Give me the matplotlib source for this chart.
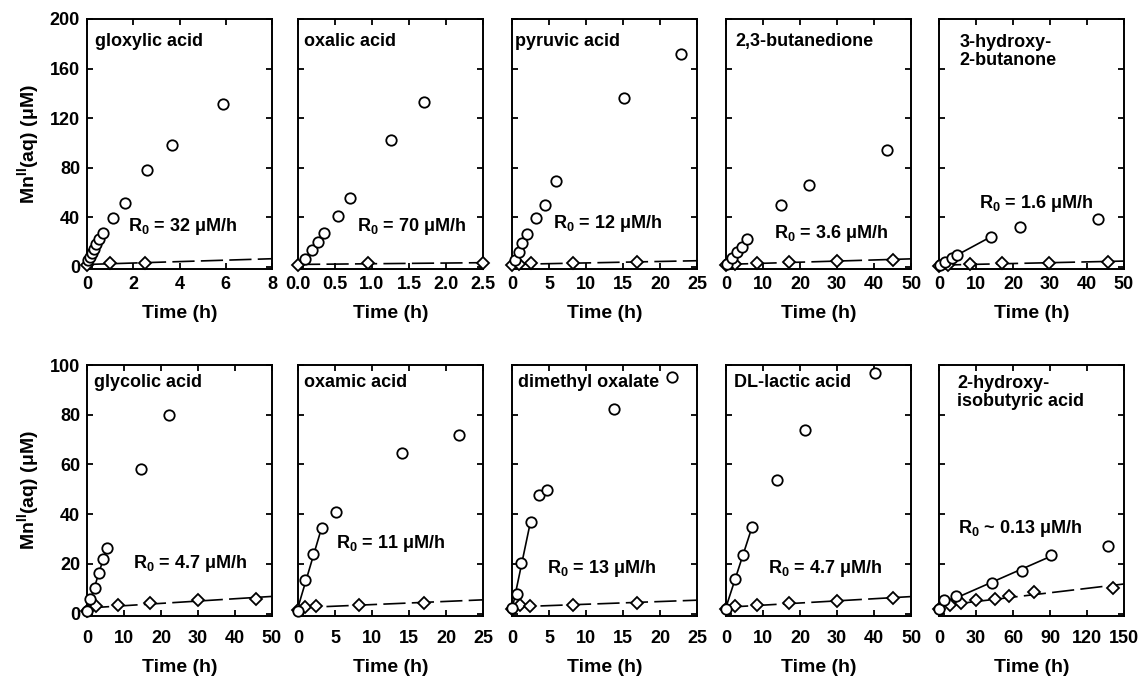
import numpy as np
import matplotlib
matplotlib.use('Agg')
import matplotlib.pyplot as plt

plt.rcParams['font.family'] = ['Liberation Sans', 'DejaVu Sans']
plt.rcParams['font.weight'] = 'bold'
plt.rcParams['axes.labelweight'] = 'bold'
plt.rcParams['mathtext.fontset'] = 'custom'
plt.rcParams['mathtext.rm'] = 'Liberation Sans:bold'
plt.rcParams['mathtext.it'] = 'Liberation Sans:bold'
plt.rcParams['mathtext.bf'] = 'Liberation Sans:bold'
plt.rcParams['mathtext.default'] = 'rm'
plt.rcParams['lines.scale_dashes'] = False

# ------------------------------------------------------------------ #
# Data
# ------------------------------------------------------------------ #
names = ['gloxylic acid', 'oxalic acid', 'pyruvic acid', '2,3-butanedione',
         '3-hydroxy-\n2-butanone',
         'glycolic acid', 'oxamic acid', 'dimethyl oxalate', 'DL-lactic acid',
         '2-hydroxy-\nisobutyric acid']
rates = ['R$_0$ = 32 μM/h', 'R$_0$ = 70 μM/h', 'R$_0$ = 12 μM/h',
         'R$_0$ = 3.6 μM/h', 'R$_0$ = 1.6 μM/h',
         'R$_0$ = 4.7 μM/h', 'R$_0$ = 11 μM/h', 'R$_0$ = 13 μM/h',
         'R$_0$ = 4.7 μM/h', 'R$_0$ ~ 0.13 μM/h']

# circles: with substrate
circ_t = [
    [0.05, 0.12, 0.2, 0.3, 0.4, 0.52, 0.68, 1.12, 1.63, 2.59, 3.67, 5.87],
    [0.09, 0.19, 0.27, 0.35, 0.54, 0.70, 1.25, 1.70],
    [0.45, 0.9, 1.35, 2.0, 3.2, 4.5, 5.9, 15.2, 22.8],
    [0.4, 1.5, 2.9, 4.2, 5.6, 14.8, 22.5, 43.4],
    [0.3, 1.6, 3.4, 4.8, 14.1, 21.9, 42.9],
    [0, 0.9, 2.1, 3.2, 4.3, 5.4, 14.5, 22.2],
    [0, 0.95, 2.0, 3.3, 5.1, 14.1, 21.8],
    [0, 0.63, 1.2, 2.5, 3.6, 4.7, 13.8, 21.6],
    [0, 2.3, 4.7, 7.1, 13.7, 21.4, 40.3],
    [0, 4.3, 13.8, 42.7, 67, 90.5, 137],
]
circ_y = [
    [5, 8, 11, 14, 18, 22, 27, 39, 51, 78, 98, 131],
    [6, 13, 20, 27, 41, 55, 102, 133],
    [5, 12, 19, 26, 39, 50, 69, 136, 172],
    [2, 7, 12, 16, 22, 50, 66, 94],
    [1.5, 4, 7, 9.5, 24, 32, 38],
    [1, 5.7, 10.3, 16.3, 22, 26.4, 58.3, 79.7],
    [1, 13.3, 24, 34.3, 40.7, 64.7, 71.7],
    [2.3, 8, 20.3, 36.7, 47.7, 49.7, 82.3, 95.3],
    [2, 14, 23.7, 35, 53.7, 74, 96.7],
    [2, 5.3, 6.9, 12.3, 17, 23.6, 27.3],
]
# number of early points used for the initial-rate line
n_fit = [7, 4, 4, 5, 5, 6, 4, 4, 4, 6]

# diamonds: control
dia_t = [
    [0, 0.98, 2.49],
    [0, 0.95, 2.5],
    [0, 0.9, 2.5, 8.3, 16.9],
    [0, 2.3, 8.3, 17, 29.9, 45.2],
    [0, 2.5, 8.4, 17.1, 29.7, 45.6],
    [0, 2.5, 8.4, 17, 29.9, 45.6],
    [0, 0.95, 2.4, 8.3, 17.0],
    [0, 1.1, 2.4, 8.3, 16.9],
    [0, 2.4, 8.3, 17, 29.9, 45.2],
    [0, 8.9, 17.8, 29.7, 45.4, 56.8, 77.3, 140.8],
]
dia_y = [
    [1.5, 2.5, 3],
    [1.5, 2.5, 3],
    [1, 2, 2.5, 3, 3.5],
    [1, 2, 3, 3.5, 4.5, 5.5],
    [0.5, 1.5, 2, 2.5, 3, 4],
    [1, 3, 3.3, 4.3, 5.3, 6],
    [1.6, 2.7, 3, 3.6, 4.3],
    [2, 3.3, 3, 3.6, 4.4],
    [2, 3, 3.3, 4.3, 5, 6.3],
    [1.7, 3.3, 4.3, 5.3, 6, 7, 8.7, 10.3],
]

x_max = [8, 2.5, 25, 50, 50, 50, 25, 25, 50, 150]
x_ticks = [
    [0, 2, 4, 6, 8],
    [0, 0.5, 1.0, 1.5, 2.0, 2.5],
    [0, 5, 10, 15, 20, 25],
    [0, 10, 20, 30, 40, 50],
    [0, 10, 20, 30, 40, 50],
    [0, 10, 20, 30, 40, 50],
    [0, 5, 10, 15, 20, 25],
    [0, 5, 10, 15, 20, 25],
    [0, 10, 20, 30, 40, 50],
    [0, 30, 60, 90, 120, 150],
]

# ------------------------------------------------------------------ #
# Layout (pixel positions of the panels)
# ------------------------------------------------------------------ #
W, H = 1142, 680
lefts = [87, 298, 512, 726, 939]
pw = 185
rows = [(19, 269), (365, 616)]
xpad = [5, 10]     # tick label pad per row (pt)

name_pos = [(0.045, 0.91), (0.03, 0.91), (0.015, 0.91), (0.05, 0.91), (0.11, 0.87),
            (0.04, 0.93), (0.035, 0.93), (0.03, 0.93), (0.045, 0.93), (0.10, 0.89)]
rate_pos = [(0.22, 0.17), (0.32, 0.17), (0.22, 0.18), (0.26, 0.14), (0.215, 0.26),
            (0.25, 0.21), (0.205, 0.29), (0.19, 0.19), (0.225, 0.19), (0.105, 0.35)]

fig = plt.figure(figsize=(W / 100, H / 100), dpi=100)

for i in range(10):
    r, c = divmod(i, 5)
    top, bot = rows[r]
    ax = fig.add_axes([lefts[c] / W, 1 - bot / H, pw / W, (bot - top) / H])

    ct = np.array(circ_t[i], dtype=float)
    cy = np.array(circ_y[i], dtype=float)
    dt = np.array(dia_t[i], dtype=float)
    dy = np.array(dia_y[i], dtype=float)

    # control line (long dashes over the whole range)
    p = np.polyfit(dt, dy, 1)
    xx = np.array([0, x_max[i]])
    ax.plot(xx, np.polyval(p, xx), color='black', lw=1.2,
            linestyle=(0, (16, 4.5)), zorder=2, clip_on=False)

    # initial-rate line through the early points
    n = n_fit[i]
    p = np.polyfit(ct[:n], cy[:n], 1)
    xx = np.array([0, ct[n - 1]])
    ax.plot(xx, np.polyval(p, xx), color='black', lw=1.2, zorder=2)

    ax.plot(dt, dy, linestyle='none', marker='D', ms=6.5, mfc='white',
            mec='black', mew=1.3, zorder=4, clip_on=False)
    ax.plot(ct, cy, linestyle='none', marker='o', ms=7.5, mfc='white',
            mec='black', mew=1.3, zorder=4, clip_on=False)

    ax.set_xlim(0, x_max[i])
    ax.set_xticks(x_ticks[i])
    if i == 1:
        ax.set_xticklabels(['0.0', '0.5', '1.0', '1.5', '2.0', '2.5'])
    if r == 0:
        ax.set_ylim(-2, 200)
        ax.set_yticks([0, 40, 80, 120, 160, 200])
    else:
        ax.set_ylim(-1, 100)
        ax.set_yticks([0, 20, 40, 60, 80, 100])

    ax.tick_params(direction='in', top=True, right=True, length=4, width=1.3,
                   labelsize=13, pad=5)
    ax.tick_params(axis='x', pad=xpad[r])
    for s in ax.spines.values():
        s.set_linewidth(1.4)
    if c == 0:
        ax.set_ylabel('Mn$^{II}$(aq) (μM)', fontsize=14, labelpad=6)
    else:
        ax.tick_params(labelleft=False)
    ax.set_xlabel('Time (h)', fontsize=14, labelpad=9)

    ax.text(name_pos[i][0], name_pos[i][1], names[i], transform=ax.transAxes,
            fontsize=13, fontweight='bold', ha='left', va='center',
            linespacing=1.05)
    ax.text(rate_pos[i][0], rate_pos[i][1], rates[i], transform=ax.transAxes,
            fontsize=13, fontweight='bold', ha='left', va='center')

plt.savefig('out.png', dpi=100)
